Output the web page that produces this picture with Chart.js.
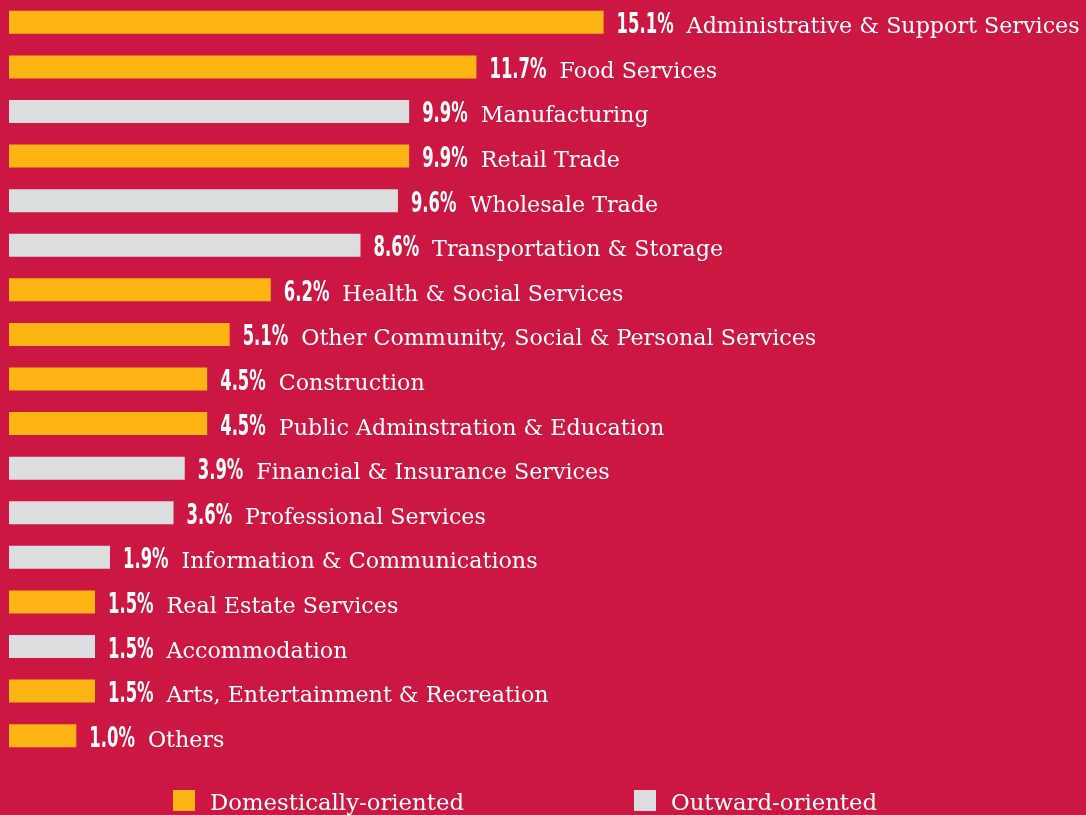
<!DOCTYPE html>
<html>
<head>
<meta charset="utf-8">
<script src="https://cdn.jsdelivr.net/npm/chart.js@4"></script>
<style>
  html, body { margin: 0; padding: 0; background: #CB1741; }
  #caja { width: 1086px; height: 815px; position: relative; }
</style>
</head>
<body>
<div id="caja"><canvas id="grafica"></canvas></div>
<script>
// Sectors and share of total (%)
const sectores = [
  'Administrative & Support Services',
  'Food Services',
  'Manufacturing',
  'Retail Trade',
  'Wholesale Trade',
  'Transportation & Storage',
  'Health & Social Services',
  'Other Community, Social & Personal Services',
  'Construction',
  'Public Adminstration & Education',
  'Financial & Insurance Services',
  'Professional Services',
  'Information & Communications',
  'Real Estate Services',
  'Accommodation',
  'Arts, Entertainment & Recreation',
  'Others'
];
const porcentajes = [15.1, 11.7, 9.9, 9.9, 9.6, 8.6, 6.2, 5.1, 4.5, 4.5, 3.9, 3.6, 1.9, 1.5, 1.5, 1.5, 1.0];
// D = domestically-oriented, O = outward-oriented
const orientacion = ['D', 'D', 'O', 'D', 'O', 'O', 'D', 'D', 'D', 'D', 'O', 'O', 'O', 'D', 'O', 'D', 'D'];
const leyenda = ['Domestically-oriented', 'Outward-oriented'];

const COLORES = { D: '#FEB514', O: '#DCDDDF' };
const X_MIN = -0.8;
const X_MAX = 28.0;

const FUENTE_PCT = 'bold 28px "Liberation Sans Narrow", "DejaVu Sans Condensed", "Roboto Condensed", sans-serif';
const FUENTE_CAT = '23px "DejaVu Serif", "Liberation Serif", serif';

// ─── Etiquetas al final de cada barra ─────────────────────────────────────────
const etiquetasBarras = {
  id: 'etiquetasBarras',
  afterDatasetsDraw(chart) {
    const ctx = chart.ctx;
    const meta = chart.getDatasetMeta(0);
    ctx.save();
    ctx.fillStyle = '#FFFFFF';
    ctx.textBaseline = 'alphabetic';
    ctx.textAlign = 'left';

    // escala horizontal para imitar las fuentes condensadas del original
    ctx.font = FUENTE_PCT;
    const escPct = 57 / ctx.measureText('15.1%').width;
    ctx.font = FUENTE_CAT;
    const escCat = 393 / ctx.measureText(sectores[0]).width;

    meta.data.forEach((barra, i) => {
      const base = barra.y + 11;
      const texto = porcentajes[i].toFixed(1) + '%';
      let x = barra.x + 13;

      ctx.font = FUENTE_PCT;
      const anchoPct = ctx.measureText(texto).width * escPct;
      ctx.save();
      ctx.translate(x, base);
      ctx.scale(escPct, 1);
      ctx.fillText(texto, 0, 0);
      ctx.restore();

      x += anchoPct + 13;
      ctx.font = FUENTE_CAT;
      ctx.save();
      ctx.translate(x, base);
      ctx.scale(escCat, 1);
      ctx.fillText(sectores[i], 0, 0);
      ctx.restore();
    });
    ctx.restore();
  }
};

// ─── Leyenda propia ───────────────────────────────────────────────────────────
const leyendaPropia = {
  id: 'leyendaPropia',
  afterDraw(chart) {
    const ctx = chart.ctx;
    ctx.save();
    ctx.font = FUENTE_CAT;
    const escCat = 254 / ctx.measureText(leyenda[0]).width;
    const colores = [COLORES.D, COLORES.O];
    let x = 173;
    const y = 790;
    leyenda.forEach((t, i) => {
      ctx.fillStyle = colores[i];
      ctx.fillRect(x, y, 22, 21);
      ctx.fillStyle = '#FFFFFF';
      ctx.textBaseline = 'alphabetic';
      ctx.save();
      ctx.translate(x + 37, y + 20);
      ctx.scale(escCat, 1);
      ctx.fillText(t, 0, 0);
      ctx.restore();
      x += 37 + ctx.measureText(t).width * escCat + 170;
    });
    ctx.restore();
  }
};

new Chart(document.getElementById('grafica'), {
  type: 'bar',
  data: {
    labels: sectores,
    datasets: [{
      data: porcentajes,
      base: X_MIN,
      backgroundColor: orientacion.map(o => COLORES[o]),
      borderWidth: 0,
      categoryPercentage: 1,
      barPercentage: 0.516
    }]
  },
  options: {
    indexAxis: 'y',
    responsive: true,
    maintainAspectRatio: false,
    animation: false,
    layout: { padding: { left: 9, right: 0, top: 0, bottom: 0 } },
    plugins: {
      legend: { display: false },
      tooltip: { enabled: false }
    },
    scales: {
      x: {
        min: X_MIN,
        max: X_MAX,
        ticks: { display: false },
        grid: { display: false },
        border: { display: false },
        afterFit(escala) { escala.height = 57; }
      },
      y: {
        display: false
      }
    }
  },
  plugins: [etiquetasBarras, leyendaPropia]
});
</script>
</body>
</html>
